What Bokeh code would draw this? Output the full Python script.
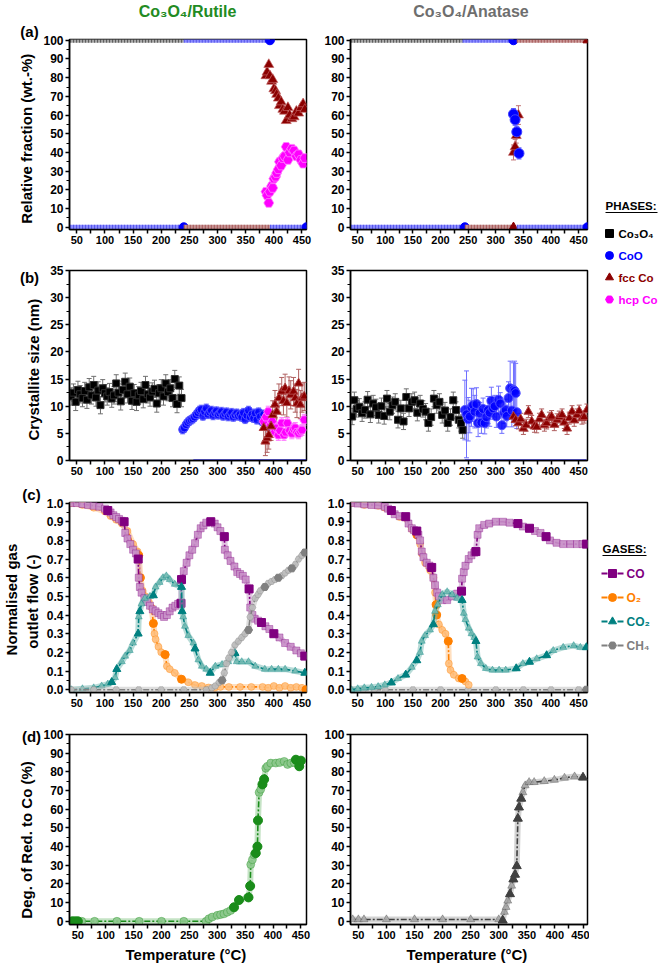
from bokeh.plotting import figure
from bokeh.models import Range1d, FixedTicker, Label, NumeralTickFormatter
from bokeh.layouts import row, column
from bokeh.embed import file_html
from bokeh.resources import INLINE
from bokeh.core.properties import value

FONT = "Liberation Sans"

# ------------------------------------------------------------------ data
# (a) phase fractions, plateaus: phase, start T, end T, value, end-marker
A_R_SEG_PHASE = ["Co3O4", "CoO", "CoO", "fcc", "CoO"]
A_R_SEG_T0 = [38, 240, 38, 240, 393]
A_R_SEG_T1 = [240, 393, 240, 393, 458]
A_R_SEG_V = [100, 100, 0, 0, 0]
A_R_SEG_END = [False, True, True, False, True]

A_R_FCC_T = [386, 388, 391, 393, 396, 398, 400, 403, 405, 408, 410, 413, 416, 419, 422, 425, 428, 432, 436, 440, 444, 448, 452, 455]
A_R_FCC_V = [81, 83, 87, 81, 78, 79, 74, 73, 71, 69, 65, 67, 63, 62, 57, 64, 60, 58, 59, 62, 61, 64, 66, 63]
A_R_HCP_V = [19, 17, 13, 19, 22, 21, 26, 27, 29, 31, 35, 33, 37, 38, 43, 36, 40, 42, 41, 38, 39, 36, 34, 37]

A_A_SEG_PHASE = ["Co3O4", "CoO", "fcc", "CoO", "fcc", "CoO"]
A_A_SEG_T0 = [38, 240, 338, 38, 244, 338]
A_A_SEG_T1 = [240, 332, 466, 244, 332, 466]
A_A_SEG_V = [100, 100, 100, 0, 0, 0]
A_A_SEG_END = [False, True, True, True, True, True]

A_A_COO_T = [332, 335, 338, 342]
A_A_COO_V = [60.5, 57.5, 51, 39.5]
A_A_COO_E = [3, 3, 3, 3]
A_A_FCC_T = [332, 335, 337, 341]
A_A_FCC_V = [40, 43, 49, 60]
A_A_FCC_E = [4, 4, 4, 5]

# (b) crystallite sizes (nm)
B_R_CO3O4_T = [40, 44, 48, 52, 56, 60, 64, 68, 72, 76, 80, 84, 88, 92, 96, 100, 104, 108, 112, 116,
               120, 124, 128, 132, 136, 140, 144, 148, 152, 156, 160, 164, 168, 172, 176, 180, 184, 188, 192, 196,
               200, 204, 208, 212, 216, 220, 224, 228, 232, 236]
B_R_CO3O4_V = [11.8, 12.5, 10.8, 13.0, 12.2, 11.5, 12.8, 11.2, 13.5, 12.0,
               13.9, 11.6, 12.9, 10.2, 13.3, 12.4, 11.8, 12.6, 11.4, 12.0,
               14.2, 12.5, 10.9, 13.0, 14.5, 12.2, 13.6, 11.0, 12.4, 10.8,
               12.0, 12.8, 11.3, 13.9, 12.2, 11.6, 12.7, 13.2, 10.5, 12.4,
               13.3, 11.8, 14.2, 12.6, 13.3, 11.5, 15.0, 10.4, 13.8, 11.5]
B_R_CO3O4_E = 1.6
B_R_COO_T = [238, 241, 244, 247, 250, 253, 256, 259, 262, 265, 268, 271, 274, 277, 280, 283, 286, 289, 292, 295,
             298, 301, 304, 307, 310, 313, 316, 319, 322, 325, 328, 331, 334, 337, 340, 343, 346, 349, 352, 355,
             358, 361, 364, 367, 370, 373, 376, 379, 382, 385, 388, 391]
B_R_COO_V = [5.7, 6.0, 6.6, 7.0, 7.3, 7.5, 7.7, 8.0, 8.4, 8.8,
             9.2, 9.4, 8.2, 9.0, 9.6, 8.5, 8.9, 9.2, 8.3, 8.8,
             9.1, 8.4, 8.7, 9.0, 8.2, 8.6, 8.9, 8.1, 8.5, 8.8,
             8.0, 8.4, 8.7, 8.2, 8.5, 8.0, 8.8, 7.6, 8.3, 9.2,
             8.0, 8.5, 7.8, 8.7, 7.5, 8.9, 8.1, 7.2, 8.5, 7.0,
             6.6, 6.2]
B_R_COO_E = 0.8
B_R_FCC_T = [382, 385, 388, 391, 395, 398, 402, 405, 409, 414, 417, 420, 423, 427, 430, 435, 438, 441, 444, 447, 450, 454]
B_R_FCC_V = [6.0, 3.5, 4.1, 4.7, 6.3, 8.4, 10.3, 9.0, 11.5, 12.7, 11.0, 13.3, 10.6, 12.8, 12.1, 12.7, 11.5, 10.5, 14.2, 10.3, 11.5, 11.8]
B_R_FCC_E = 2.6
B_R_HCP_T = [382, 386, 390, 394, 397, 400, 402, 405, 408, 411, 414, 418, 421, 424, 428, 432, 435, 438, 441, 444, 447, 450, 454]
B_R_HCP_V = [7.2, 8.0, 9.0, 6.5, 7.2, 6.0, 5.3, 6.0, 4.7, 5.5, 6.9, 4.7, 5.2, 6.9, 5.5, 5.0, 5.8, 6.0, 5.2, 5.0, 5.4, 5.6, 7.5]
B_R_HCP_E = 1.0
B_R_COO_ZERO = [257, 458]

B_A_CO3O4_T = [40, 44, 48, 53, 58, 63, 68, 73, 78, 83, 88, 93, 98, 103, 108, 113, 118, 123, 128, 133,
               138, 143, 148, 153, 158, 163, 168, 173, 178, 183, 188, 193, 198, 203, 208, 213, 218, 223, 228, 233,
               237, 240]
B_A_CO3O4_V = [8.1, 11.1, 9.5, 9.9, 8.7, 9.3, 11.2, 8.5, 10.5, 9.8,
               8.4, 10.0, 8.2, 11.4, 9.0, 10.2, 10.8, 7.5, 9.6, 7.2,
               11.7, 9.6, 10.8, 11.1, 8.8, 10.5, 9.5, 9.0, 6.9, 8.0,
               11.4, 10.2, 10.8, 8.4, 9.2, 6.9, 8.0, 11.1, 9.3, 7.5,
               6.9, 5.6]
B_A_CO3O4_E = 1.5
B_A_COO_T = [244, 247, 250, 253, 256, 259, 262, 265, 268, 271, 274, 277, 280, 283, 286, 289, 292, 295, 298, 301,
             305, 308, 311, 315, 318, 320, 323, 326, 329, 332, 334, 336, 338]
B_A_COO_V = [9.3, 8.5, 7.6, 8.1, 9.8, 10.2, 9.0, 10.4, 6.9, 8.7,
             7.0, 9.5, 6.9, 8.0, 9.3, 8.8, 11.0, 9.6, 10.0, 8.1,
             11.2, 10.5, 6.5, 8.8, 9.3, 8.2, 11.5, 13.3, 9.2, 13.0,
             12.8, 12.4, 8.9]
B_A_COO_E = [5.5, 8, 4, 3, 3.5, 3, 3, 3, 2.5, 2,
             2, 2, 2, 2, 2.5, 2.5, 2.5, 2, 2, 2,
             2.5, 2, 1.5, 2, 2, 2, 3, 5, 3, 5,
             5.5, 5.5, 3]
B_A_FCC_T = [332, 336, 341, 345, 350, 355, 359, 365, 370, 374, 379, 383, 388, 392, 397, 401, 406, 411, 415, 420,
             424, 429, 433, 438, 442, 447, 451, 456, 460, 465]
B_A_FCC_V = [8.1, 7.5, 6.9, 7.6, 5.9, 6.5, 9.0, 7.2, 6.3, 6.2,
             7.6, 8.4, 6.5, 6.9, 7.8, 8.1, 6.6, 7.5, 8.0, 8.4,
             7.0, 5.9, 7.8, 9.0, 7.4, 8.4, 9.1, 7.8, 8.0, 9.3]
B_A_FCC_E = 1.1
B_A_COO_ZERO = [244, 464]

# (c) normalised gas outlet flows
CO_R_T = [40, 50, 60, 70, 80, 90, 100, 105, 110, 115, 120, 125, 130,
          134, 136, 140, 145, 150, 155, 159,
          160, 162, 165, 170, 175, 180, 185, 190, 195, 200,
          205, 210, 215, 220, 225, 230, 235, 236,
          240, 245, 250, 255, 260, 265, 270, 275, 280,
          288, 295, 300, 305, 312, 313, 318, 323, 330,
          335, 340, 345, 350, 356, 358, 362, 366, 372, 378,
          385, 392, 400, 410, 420, 430, 440, 448, 455]
CO_R_V = [1.0, 1.0, 0.995, 0.99, 0.985, 0.98, 0.97, 0.96, 0.95, 0.935, 0.925, 0.915, 0.905,
          0.9, 0.84, 0.81, 0.78, 0.75, 0.73, 0.70,
          0.60, 0.55, 0.52, 0.49, 0.47, 0.45, 0.43, 0.42, 0.41, 0.40,
          0.39, 0.40, 0.42, 0.44, 0.45, 0.46, 0.463, 0.59,
          0.635, 0.68, 0.72, 0.75, 0.785, 0.83, 0.865, 0.88, 0.895,
          0.90, 0.89, 0.87, 0.85, 0.82, 0.75, 0.72, 0.69, 0.66,
          0.63, 0.62, 0.61, 0.59, 0.54, 0.44, 0.40, 0.38, 0.37, 0.36,
          0.34, 0.325, 0.30, 0.28, 0.25, 0.23, 0.21, 0.195, 0.18]
CO_R_SOLID = [105, 134, 159, 235, 236, 288, 312, 356, 378, 400, 455]

O2_R_T = [40, 60, 80, 100, 110, 120, 130, 140, 150, 158,
          160, 163, 167, 172, 178, 183, 186, 188, 190, 195,
          200, 205, 207, 210, 215, 224, 236, 248, 260, 272,
          284, 295, 305, 320, 340, 360, 380, 390, 400, 410,
          420, 430, 440, 450, 457]
O2_R_V = [1.0, 0.99, 0.975, 0.955, 0.93, 0.91, 0.89, 0.85, 0.78, 0.74,
          0.72, 0.60, 0.53, 0.50, 0.47, 0.44, 0.355, 0.30, 0.27, 0.23,
          0.2, 0.19, 0.188, 0.126, 0.11, 0.09, 0.056, 0.04, 0.025, 0.02,
          0.012, 0.01, 0.015, 0.015, 0.015, 0.015, 0.015, 0.01, 0.02, 0.01,
          0.02, 0.01, 0.015, 0.01, 0.0]
O2_R_SOLID = [160, 163, 186, 207, 236, 457]

CO2_R_T = [40, 60, 80, 94, 105, 112, 118, 121, 130, 136,
           144, 150, 159, 160, 162, 165, 171, 180, 186, 190,
           197, 203, 209, 215, 224, 236, 237, 239, 242, 248,
           257, 260, 266, 272, 280, 287, 296, 308, 319, 331,
           334, 343, 355, 367, 384, 396, 408, 420, 438, 455]
CO2_R_V = [0.0, 0.005, 0.01, 0.02, 0.03, 0.04, 0.065, 0.11, 0.15, 0.18,
           0.21, 0.25, 0.30, 0.39, 0.42, 0.46, 0.49, 0.50, 0.505, 0.55,
           0.575, 0.60, 0.61, 0.59, 0.565, 0.55, 0.42, 0.39, 0.34, 0.29,
           0.25, 0.22, 0.16, 0.126, 0.11, 0.09, 0.126, 0.135, 0.15, 0.196,
           0.15, 0.15, 0.15, 0.126, 0.11, 0.11, 0.11, 0.11, 0.10, 0.09]
CO2_R_SOLID = [112, 121, 159, 162, 186, 236, 237, 260, 287, 331, 455]

CH4_R_T = [40, 80, 120, 160, 200, 240, 280, 290, 296, 303,
           308, 312, 316, 320, 325, 331, 337, 343, 349, 355,
           358, 362, 367, 372, 376, 384, 390, 396, 402, 408,
           414, 420, 426, 432, 438, 444, 450, 455]
CH4_R_V = [0.0, 0.0, 0.0, 0.0, 0.0, 0.0, 0.0, 0.01, 0.02, 0.04,
           0.05, 0.09, 0.14, 0.17, 0.2, 0.24, 0.26, 0.28, 0.30, 0.32,
           0.39, 0.44, 0.49, 0.51, 0.53, 0.55, 0.57, 0.58, 0.59, 0.60,
           0.61, 0.625, 0.64, 0.65, 0.67, 0.70, 0.72, 0.735]
CH4_R_SOLID = [308, 355, 384, 408, 432, 455]

CO_A_T = [38, 50, 62, 75, 87, 99, 105, 111, 117, 126,
          137, 142, 148, 152, 157, 160, 163, 166, 169, 175,
          180, 184, 187, 190, 194, 197, 203, 212, 221, 230,
          238, 239, 242, 245, 251, 256, 261, 264, 267, 270,
          279, 288, 300, 313, 325, 340, 349, 361, 371, 381,
          391, 398, 410, 422, 435, 447, 457, 464]
CO_A_V = [1.0, 0.997, 0.993, 0.99, 0.988, 0.98, 0.97, 0.96, 0.94, 0.93,
          0.927, 0.89, 0.865, 0.855, 0.85, 0.83, 0.80, 0.74, 0.71, 0.68,
          0.665, 0.655, 0.60, 0.56, 0.52, 0.50, 0.48, 0.48, 0.50, 0.515,
          0.528, 0.595, 0.63, 0.664, 0.70, 0.72, 0.734, 0.74, 0.83, 0.865,
          0.883, 0.89, 0.90, 0.90, 0.895, 0.89, 0.874, 0.865, 0.85, 0.84,
          0.82, 0.80, 0.787, 0.78, 0.78, 0.78, 0.78, 0.78]
CO_A_SOLID = [111, 137, 157, 184, 238, 264, 340, 361, 391, 464]

O2_A_T = [38, 62, 87, 99, 111, 126, 137, 148, 157, 163,
          166, 172, 181, 187, 190, 192, 193, 197, 203, 209,
          214, 215, 218, 224, 233, 239, 245, 251]
O2_A_V = [1.0, 0.99, 0.985, 0.975, 0.955, 0.925, 0.92, 0.86, 0.83, 0.78,
          0.73, 0.68, 0.64, 0.6, 0.52, 0.455, 0.40, 0.35, 0.32, 0.30,
          0.26, 0.14, 0.105, 0.08, 0.06, 0.06, 0.044, 0.026]
O2_A_SOLID = [157, 192, 193, 214, 239]

CO2_A_T = [38, 50, 62, 75, 87, 99, 111, 123, 137, 148,
           157, 163, 166, 172, 181, 187, 190, 195, 203, 212,
           221, 230, 239, 242, 245, 251, 256, 261, 264, 267,
           273, 282, 294, 306, 318, 337, 349, 361, 374, 392,
           404, 422, 441, 453, 464]
CO2_A_V = [0.0, 0.005, 0.01, 0.013, 0.017, 0.026, 0.038, 0.06, 0.08, 0.12,
           0.157, 0.20, 0.26, 0.29, 0.32, 0.35, 0.42, 0.455, 0.51, 0.525,
           0.51, 0.49, 0.48, 0.41, 0.376, 0.33, 0.30, 0.28, 0.26, 0.175,
           0.14, 0.114, 0.105, 0.105, 0.105, 0.114, 0.14, 0.149, 0.166, 0.184,
           0.21, 0.227, 0.236, 0.227, 0.227]
CO2_A_SOLID = [111, 137, 157, 187, 239, 264, 337, 361, 392, 464]

CH4_A_T = [38, 60, 80, 100, 150, 200, 250, 300, 350, 400, 450, 464]
CH4_A_V = [0.0, 0.0, 0.0, 0.0, 0.0, 0.0, 0.0, 0.0, 0.0, 0.0, 0.0, 0.0]
CH4_A_SOLID = [464]

# (d) degree of reduction to Co (%)
D_R_T = [40, 45, 50, 57, 80, 120, 160, 200, 240, 280,
         285, 291, 300, 306, 312, 318, 324, 330, 339,
         356, 359, 360, 363, 366, 369, 372, 373, 375, 378,
         381, 384, 387, 390, 396, 405, 412, 420, 426, 432,
         438, 441, 447, 450]
D_R_V = [0, 0, 0, 0, 0, 0, 0, 0, 0, 0,
         1.4, 2.3, 3.2, 3.6, 4.0, 4.9, 5.8, 7.5, 11.4,
         12.8, 18.9, 30.4, 33, 35.6, 36.5, 40, 54, 69, 70.7,
         73.3, 76, 82, 83, 84.7, 84.7, 85, 85.6, 84, 84.7,
         85, 86.5, 83, 86]
D_R_SOLID = [40, 45, 50, 330, 339, 356, 359, 369, 372, 373, 381, 384, 441, 447, 450]

D_A_T = [40, 50, 60, 100, 150, 200, 250, 300, 307, 310,
         313, 316, 320, 323, 326, 329, 332, 334, 336, 340,
         343, 347, 354, 363, 381, 399, 417, 435, 450]
D_A_V = [1.0, 1.0, 1.0, 1.0, 1.0, 1.0, 1.0, 1.0, 0.5, 5,
         7.6, 11, 14.6, 19, 22.5, 25, 29.6, 55, 61, 65.7,
         69, 72.7, 74.5, 74.5, 75, 75.7, 76.8, 77.5, 77]
D_A_SOLID = [307, 320, 326, 329, 332, 334, 336, 340, 450]

# tick values
X_TICKS = [50, 75, 100, 125, 150, 175, 200, 225, 250, 275, 300, 325, 350, 375, 400, 425, 450]
Y_TICKS_PCT = [0, 10, 20, 30, 40, 50, 60, 70, 80, 90, 100]
Y_MINOR_PCT = [5, 15, 25, 35, 45, 55, 65, 75, 85, 95]
Y_TICKS_NM = [0, 5, 10, 15, 20, 25, 30, 35]
Y_MINOR_NM = [2.5, 7.5, 12.5, 17.5, 22.5, 27.5, 32.5]
Y_TICKS_FLOW = [0.0, 0.1, 0.2, 0.3, 0.4, 0.5, 0.6, 0.7, 0.8, 0.9, 1.0]
Y_MINOR_FLOW = [0.05, 0.15, 0.25, 0.35, 0.45, 0.55, 0.65, 0.75, 0.85, 0.95]

# titles and legends
TITLES = ["Co\u2083O\u2084/Rutile", "Co\u2083O\u2084/Anatase"]
TITLE_COLORS = ["#228b22", "#6e6e6e"]
PH_NAMES = ["Co\u2083O\u2084", "CoO", "fcc Co", "hcp Co"]
PH_COLORS = ["#000000", "#0000ff", "#8b0000", "#ff00ff"]
PH_MARKERS = ["square", "circle", "triangle", "hex"]
GAS_NAMES = ["CO", "O\u2082", "CO\u2082", "CH\u2084"]
GAS_COLORS = ["#800080", "#ff8000", "#008080", "#808080"]
GAS_PALE = ["#c890c8", "#ffc080", "#74bab2", "#bcbcbc"]
GAS_MARKERS = ["square", "circle", "triangle", "hex"]

PHASE_STYLE = {
    "Co3O4": ("#000000", "#a8a8a8", "#1a1a1a", "square"),
    "CoO": ("#0000ff", "#8c8cff", "#2828d8", "circle"),
    "fcc": ("#8b0000", "#c89494", "#8b2a2a", "triangle"),
}

# ------------------------------------------------------------------ layout
LEFT_W, LEFT_BL, LEFT_BR = 312, 68, 6
RIGHT_W, RIGHT_BL, RIGHT_BR = 277, 38, 2
FRAME_H = 190
TITLE_H = 21
ROW_TOP = [18, 22, 23, 20]
ROW_BOT = [19, 19, 22, 43]


def base_fig(side, r, xr, yr, yticks, yminor, ylabel=None, xlabel=None, yfmt=None, ylabel_size="15px"):
    if side == "L":
        w, bl, br = LEFT_W, LEFT_BL, LEFT_BR
    else:
        w, bl, br = RIGHT_W, RIGHT_BL, RIGHT_BR
    h = ROW_TOP[r] + FRAME_H + ROW_BOT[r]
    p = figure(width=w, height=h, x_range=Range1d(*xr), y_range=Range1d(*yr),
               output_backend="svg", toolbar_location=None,
               min_border_left=bl, min_border_right=br,
               min_border_top=ROW_TOP[r], min_border_bottom=ROW_BOT[r])
    p.xgrid.visible = False
    p.ygrid.visible = False
    p.outline_line_color = "black"
    p.outline_line_width = 1.5
    p.outline_line_alpha = 1.0
    p.border_fill_color = "white"
    p.background_fill_color = "white"
    p.xaxis.ticker = FixedTicker(ticks=X_TICKS, minor_ticks=[])
    p.xaxis.major_label_overrides = {t: (str(t) if t % 50 == 0 else "") for t in X_TICKS}
    p.yaxis.ticker = FixedTicker(ticks=yticks, minor_ticks=yminor)
    if yfmt:
        p.yaxis.formatter = NumeralTickFormatter(format=yfmt)
    for ax in (p.xaxis[0], p.yaxis[0]):
        ax.axis_line_width = 1.5
        ax.axis_line_color = "black"
        ax.major_tick_line_width = 1.5
        ax.major_tick_out = 4
        ax.major_tick_in = 0
        ax.minor_tick_line_width = 1.2
        ax.minor_tick_out = 3
        ax.minor_tick_in = 0
        ax.major_label_text_font = FONT
        ax.major_label_text_font_style = "bold"
        ax.major_label_text_color = "black"
        ax.major_label_standoff = 2
        ax.axis_label_text_font = FONT
        ax.axis_label_text_font_style = "bold"
        ax.axis_label_text_color = "black"
    p.xaxis.major_label_text_font_size = "11px"
    p.yaxis.major_label_text_font_size = "12px"
    if ylabel:
        p.yaxis.axis_label = ylabel
        p.yaxis.axis_label_text_font_size = ylabel_size
        p.yaxis.axis_label_standoff = 5
    if xlabel:
        p.xaxis.axis_label = xlabel
        p.xaxis.axis_label_text_font_size = "15px"
        p.xaxis.axis_label_standoff = 4
    return p


def panel_letter(p, text, x, y):
    # placed in the side panel above the frame so that it is not clipped to the frame
    p.add_layout(Label(x=x, y=y, x_units="screen", y_units="screen", text=text,
                       text_font=FONT, text_font_style="bold", text_font_size="15px",
                       text_color="black", text_align="center", text_baseline="middle"), "above")


def phase_bands(p, phases, t0, t1, vals, ends):
    for ph, a, b, v, e in zip(phases, t0, t1, vals, ends):
        col, pale, dark, mk = PHASE_STYLE[ph]
        p.line([a, b], [v, v], line_color=pale, line_width=5)
        p.line([a, b], [v, v], line_color=dark, line_width=5, line_dash="1 2", line_alpha=0.55)
        if e:
            p.scatter([b], [v], marker=mk, size=9, fill_color=col, line_color=col)


def errbars(p, t, v, e, color, width=1.0):
    if not isinstance(e, list):
        e = [e] * len(t)
    lo = [a - b for a, b in zip(v, e)]
    hi = [a + b for a, b in zip(v, e)]
    p.segment(x0=t, y0=lo, x1=t, y1=hi, line_color=color, line_width=width)
    p.scatter(t, hi, marker="dash", size=5, line_color=color, line_width=width)
    p.scatter(t, lo, marker="dash", size=5, line_color=color, line_width=width)


def gas(p, t, v, solid, color, pale, marker, size=7):
    p.line(t, v, line_color=pale, line_width=6, line_alpha=0.5)
    p.line(t, v, line_color=color, line_width=1.6, line_dash="6 2 2 2")
    p.scatter(t, v, marker=marker, size=size, fill_color=pale, fill_alpha=0.9,
              line_color=color, line_alpha=0.35, line_width=1)
    sv = [v[t.index(s)] for s in solid]
    p.scatter(solid, sv, marker=marker, size=size + 1, fill_color=color, line_color=color)


XL = (37, 458)
XR = (37, 466)

# ---------------- title strip
TW = LEFT_W + RIGHT_W
ttl = figure(width=TW, height=TITLE_H, x_range=Range1d(0, TW), y_range=Range1d(TITLE_H, 0),
             output_backend="svg", toolbar_location=None, x_axis_location=None, y_axis_location=None,
             min_border_left=0, min_border_right=0, min_border_top=0, min_border_bottom=0)
ttl.xgrid.visible = False
ttl.ygrid.visible = False
ttl.outline_line_color = None
ttl.text(x=[LEFT_BL + (LEFT_W - LEFT_BL - LEFT_BR) / 2, LEFT_W + RIGHT_BL + (RIGHT_W - RIGHT_BL - RIGHT_BR) / 2 + 2],
         y=[11, 11], text=TITLES, text_color=TITLE_COLORS, text_font=value(FONT), text_font_style="bold",
         text_font_size="16px", text_align="center", text_baseline="middle")

# ---------------- row a
a_l = base_fig("L", 0, XL, (-1.2, 100.4), Y_TICKS_PCT, Y_MINOR_PCT, ylabel="Relative  fraction  (wt.-%)")
phase_bands(a_l, A_R_SEG_PHASE, A_R_SEG_T0, A_R_SEG_T1, A_R_SEG_V, A_R_SEG_END)
a_l.scatter(A_R_FCC_T, A_R_FCC_V, marker="triangle", size=10, fill_color=PH_COLORS[2],
            line_color="#c06060", line_alpha=0.7)
a_l.scatter(A_R_FCC_T, A_R_HCP_V, marker="hex", size=10, fill_color=PH_COLORS[3],
            line_color="#ff80ff", line_alpha=0.8)
panel_letter(a_l, "(a)", -40, 8)

a_r = base_fig("R", 0, XR, (-1.2, 100.4), Y_TICKS_PCT, Y_MINOR_PCT)
phase_bands(a_r, A_A_SEG_PHASE, A_A_SEG_T0, A_A_SEG_T1, A_A_SEG_V, A_A_SEG_END)
errbars(a_r, A_A_FCC_T, A_A_FCC_V, A_A_FCC_E, "#c07070")
errbars(a_r, A_A_COO_T, A_A_COO_V, A_A_COO_E, "#6060ff")
a_r.scatter(A_A_FCC_T, A_A_FCC_V, marker="triangle", size=10, fill_color=PH_COLORS[2],
            line_color="#c06060", line_alpha=0.7)
a_r.scatter(A_A_COO_T, A_A_COO_V, marker="circle", size=10, fill_color=PH_COLORS[1],
            line_color="#4040ff")

# ---------------- row b
b_l = base_fig("L", 1, XL, (0, 35), Y_TICKS_NM, Y_MINOR_NM, ylabel="Crystallite  size  (nm)")
b_l.line(B_R_COO_ZERO, [0, 0], line_color="#0000ff", line_width=2)
errbars(b_l, B_R_CO3O4_T, B_R_CO3O4_V, B_R_CO3O4_E, "#707070")
errbars(b_l, B_R_COO_T, B_R_COO_V, B_R_COO_E, "#8080ff")
errbars(b_l, B_R_FCC_T, B_R_FCC_V, B_R_FCC_E, "#b06060")
errbars(b_l, B_R_HCP_T, B_R_HCP_V, B_R_HCP_E, "#ff80ff")
b_l.scatter(B_R_CO3O4_T, B_R_CO3O4_V, marker="square", size=7, fill_color="#000000", line_color="#303030")
b_l.scatter(B_R_COO_T, B_R_COO_V, marker="circle", size=8, fill_color="#0000ff", fill_alpha=0.85,
            line_color="#5050ff")
b_l.scatter(B_R_HCP_T, B_R_HCP_V, marker="hex", size=9, fill_color="#ff00ff", line_color="#ff70ff")
b_l.scatter(B_R_FCC_T, B_R_FCC_V, marker="triangle", size=9, fill_color="#8b0000", line_color="#b04040")
panel_letter(b_l, "(b)", -40, -7)

b_r = base_fig("R", 1, XR, (0, 35), Y_TICKS_NM, Y_MINOR_NM)
b_r.line(B_A_COO_ZERO, [0, 0], line_color="#0000ff", line_width=2)
errbars(b_r, B_A_CO3O4_T, B_A_CO3O4_V, B_A_CO3O4_E, "#707070")
errbars(b_r, B_A_COO_T, B_A_COO_V, B_A_COO_E, "#7070ff")
errbars(b_r, B_A_FCC_T, B_A_FCC_V, B_A_FCC_E, "#b06060")
b_r.scatter(B_A_CO3O4_T, B_A_CO3O4_V, marker="square", size=7, fill_color="#000000", line_color="#303030")
b_r.scatter(B_A_COO_T, B_A_COO_V, marker="circle", size=9, fill_color="#0000ff", fill_alpha=0.85,
            line_color="#5050ff")
b_r.scatter(B_A_FCC_T, B_A_FCC_V, marker="triangle", size=9, fill_color="#8b0000", line_color="#b04040")

# ---------------- row c
c_l = base_fig("L", 2, XL, (-0.015, 1.003), Y_TICKS_FLOW, Y_MINOR_FLOW,
               ylabel="Normalised  gas\noutlet  flow  (-)", yfmt="0.0", ylabel_size="15px")
c_l.yaxis.axis_label_standoff = 3
gas(c_l, O2_R_T, O2_R_V, O2_R_SOLID, GAS_COLORS[1], GAS_PALE[1], GAS_MARKERS[1])
gas(c_l, CO_R_T, CO_R_V, CO_R_SOLID, GAS_COLORS[0], GAS_PALE[0], GAS_MARKERS[0])
gas(c_l, CO2_R_T, CO2_R_V, CO2_R_SOLID, GAS_COLORS[2], GAS_PALE[2], GAS_MARKERS[2])
gas(c_l, CH4_R_T, CH4_R_V, CH4_R_SOLID, GAS_COLORS[3], GAS_PALE[3], GAS_MARKERS[3])
panel_letter(c_l, "(c)", -38, 8)

c_r = base_fig("R", 2, XR, (-0.015, 1.003), Y_TICKS_FLOW, Y_MINOR_FLOW, yfmt="0.0")
gas(c_r, CH4_A_T, CH4_A_V, CH4_A_SOLID, GAS_COLORS[3], GAS_PALE[3], GAS_MARKERS[3])
gas(c_r, O2_A_T, O2_A_V, O2_A_SOLID, GAS_COLORS[1], GAS_PALE[1], GAS_MARKERS[1])
gas(c_r, CO_A_T, CO_A_V, CO_A_SOLID, GAS_COLORS[0], GAS_PALE[0], GAS_MARKERS[0])
gas(c_r, CO2_A_T, CO2_A_V, CO2_A_SOLID, GAS_COLORS[2], GAS_PALE[2], GAS_MARKERS[2])

# ---------------- row d
d_l = base_fig("L", 3, (35, 460), (-1.7, 100), Y_TICKS_PCT, Y_MINOR_PCT,
               ylabel="Deg.  of  Red.  to  Co  (%)", xlabel="Temperature  (\u00b0C)")
gas(d_l, D_R_T, D_R_V, D_R_SOLID, "#1a8c1a", "#8cc88c", "circle", size=8)
panel_letter(d_l, "(d)", -38, -2)

d_r = base_fig("R", 3, (36, 458), (-1.7, 100), Y_TICKS_PCT, Y_MINOR_PCT,
               xlabel="Temperature  (\u00b0C)")
gas(d_r, D_A_T, D_A_V, D_A_SOLID, "#404040", "#a8a8a8", "triangle", size=8)

# ---------------- legend column
LEG_W = 70
LEG_H = TITLE_H + sum(ROW_TOP) + 4 * FRAME_H + sum(ROW_BOT)
leg = figure(width=LEG_W, height=LEG_H, x_range=Range1d(0, LEG_W), y_range=Range1d(LEG_H, 0),
             output_backend="svg", toolbar_location=None, x_axis_location=None, y_axis_location=None,
             min_border_left=0, min_border_right=0, min_border_top=0, min_border_bottom=0)
leg.xgrid.visible = False
leg.ygrid.visible = False
leg.outline_line_color = None

# phases
ph_y = [233 + 22 * i for i in range(len(PH_NAMES))]
leg.text(x=[16], y=[205], text=["PHASES:"], text_font=value(FONT), text_font_style="bold",
         text_font_size="11.5px", text_baseline="middle", text_align="left", text_color="#000000")
leg.line([16, 68], [212, 212], line_color="black", line_width=1.2)
for i, (nm, col, mk) in enumerate(zip(PH_NAMES, PH_COLORS, PH_MARKERS)):
    leg.scatter([20], [ph_y[i]], marker=mk, size=8, fill_color=col, line_color=col)
leg.text(x=[29] * len(PH_NAMES), y=ph_y, text=PH_NAMES, text_font=value(FONT), text_font_style="bold",
         text_font_size="11.5px", text_baseline="middle", text_align="left", text_color=PH_COLORS)

# gases
g_y = [573 + 24 * i for i in range(len(GAS_NAMES))]
leg.text(x=[13], y=[548], text=["GASES:"], text_font=value(FONT), text_font_style="bold",
         text_font_size="11.5px", text_baseline="middle", text_align="left", text_color="#000000")
leg.line([13, 57], [555, 555], line_color="black", line_width=1.2)
for i, (nm, col, mk) in enumerate(zip(GAS_NAMES, GAS_COLORS, GAS_MARKERS)):
    leg.line([12, 18], [g_y[i], g_y[i]], line_color=col, line_width=2)
    leg.line([28, 34], [g_y[i], g_y[i]], line_color=col, line_width=2)
    leg.scatter([23], [g_y[i]], marker=mk, size=8, fill_color=col, line_color=col)
leg.text(x=[37] * len(GAS_NAMES), y=g_y, text=GAS_NAMES, text_font=value(FONT), text_font_style="bold",
         text_font_size="12px", text_baseline="middle", text_align="left", text_color=GAS_COLORS)

panels = row(column(a_l, b_l, c_l, d_l), column(a_r, b_r, c_r, d_r))
layout = row(column(ttl, panels), leg)

open("out.html", "w").write(file_html(layout, INLINE))
